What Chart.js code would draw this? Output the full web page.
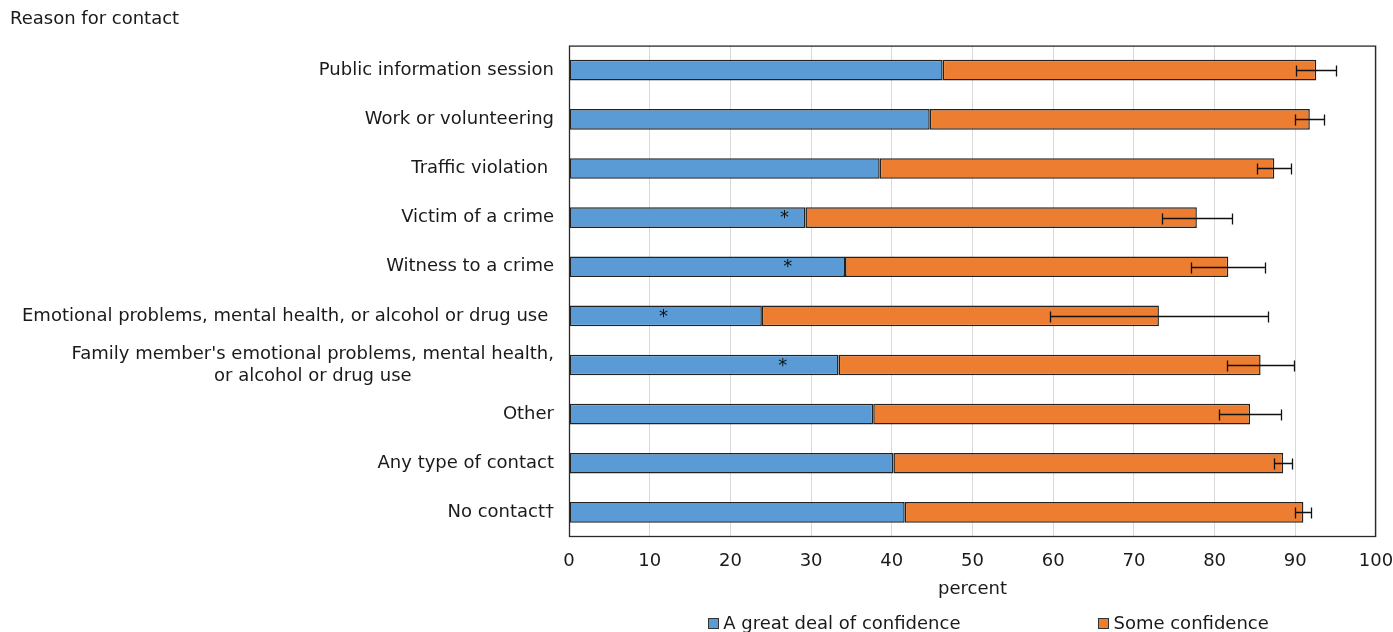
<!DOCTYPE html>
<html>
<head>
<meta charset="utf-8">
<script src="https://cdn.jsdelivr.net/npm/chart.js@4.4.1/dist/chart.umd.min.js"></script>
<style>
  html, body { margin: 0; padding: 0; background: #fff; }
  #wrap { width: 1393px; height: 632px; }
</style>
</head>
<body>
<div id="wrap"><canvas id="chart" width="1393" height="632"></canvas></div>
<script>
// reasons for contact with police, top to bottom
const reasons = [
  'Public information session',
  'Work or volunteering',
  'Traffic violation ',
  'Victim of a crime',
  'Witness to a crime',
  'Emotional problems, mental health, or alcohol or drug use ',
  ["Family member's emotional problems, mental health,", 'or alcohol or drug use'],
  'Other',
  'Any type of contact',
  'No contact\u2020'
];
const greatDeal      = [46.3, 44.7, 38.5, 29.3, 34.2, 23.9, 33.4, 37.7, 40.2, 41.6];
const someConfidence = [46.3, 47.1, 48.9, 48.5, 47.5, 49.2, 52.3, 46.7, 48.3, 49.4];
// margin of error on the combined total
const errorMargin    = [2.5, 1.8, 2.1, 4.3, 4.6, 13.5, 4.2, 3.8, 1.1, 1.0];
// significantly different from the reference group (No contact)
const significant    = [false, false, false, true, true, true, true, false, false, false];

const FONT = 'DejaVu Sans';
const TEXT = '#1a1a1a';
Chart.defaults.font.family = FONT;
Chart.defaults.color = TEXT;

// vertical category labels, with multi-line labels centred on their widest line
const categoryLabels = {
  id: 'categoryLabels',
  afterDraw(chart) {
    const {ctx, chartArea: a, scales: {y}} = chart;
    ctx.save();
    ctx.font = '18px ' + FONT;
    ctx.fillStyle = TEXT;
    ctx.textBaseline = 'middle';
    ctx.textAlign = 'center';
    const right = a.left - 15;
    reasons.forEach((label, i) => {
      const lines = Array.isArray(label) ? label : [label];
      const maxW = Math.max(...lines.map(l => ctx.measureText(l).width));
      const yc = y.getPixelForValue(i);
      lines.forEach((l, k) => {
        ctx.fillText(l, right - maxW / 2, yc + (k - (lines.length - 1) / 2) * 22);
      });
    });
    ctx.restore();
  }
};

// plot frame, error bars and significance stars
const marks = {
  id: 'marks',
  afterDatasetsDraw(chart, args, opts) {
    const {ctx, chartArea: a, scales: {x, y}} = chart;
    ctx.save();
    ctx.strokeStyle = '#111';
    ctx.lineWidth = 1.3;
    errorMargin.forEach((m, i) => {
      const total = greatDeal[i] + someConfidence[i];
      const x0 = Math.round(x.getPixelForValue(total - m)) + 0.5;
      const x1 = Math.round(x.getPixelForValue(total + m)) + 0.5;
      const yc = Math.round(y.getPixelForValue(i)) + 0.5;
      ctx.beginPath();
      ctx.moveTo(x0, yc); ctx.lineTo(x1, yc);
      ctx.moveTo(x0, yc - 5); ctx.lineTo(x0, yc + 6);
      ctx.moveTo(x1, yc - 5); ctx.lineTo(x1, yc + 6);
      ctx.stroke();
    });

    ctx.font = '18px ' + FONT;
    ctx.fillStyle = '#111';
    ctx.textAlign = 'center';
    ctx.textBaseline = 'middle';
    significant.forEach((s, i) => {
      if (!s) return;
      ctx.fillText('*', x.getPixelForValue(opts.starAt[i]), y.getPixelForValue(i) + 1);
    });

    ctx.lineWidth = 1.3;
    ctx.strokeStyle = '#2a2a2a';
    ctx.strokeRect(a.left + 0.5, a.top + 0.5, a.right - a.left - 1, a.bottom - a.top - 1);
    ctx.restore();
  }
};

// legend row under the axis title
const bottomLegend = {
  id: 'bottomLegend',
  afterDraw(chart) {
    const {ctx, chartArea: a} = chart;
    const box = 10, gap = 5, spacing = 138;
    ctx.save();
    ctx.font = '18px ' + FONT;
    ctx.textBaseline = 'middle';
    ctx.textAlign = 'left';
    const items = chart.data.datasets.map(d => ({
      text: d.label, color: d.backgroundColor, w: box + gap + ctx.measureText(d.label).width
    }));
    const total = items.reduce((s, it) => s + it.w, 0) + spacing * (items.length - 1);
    let cx = (a.left + a.right) / 2 + 16 - total / 2;
    const ly = 624;
    items.forEach(it => {
      ctx.fillStyle = it.color;
      ctx.fillRect(Math.round(cx) + 0.5, ly - 5.5, box, box);
      ctx.strokeStyle = '#333';
      ctx.lineWidth = 1;
      ctx.strokeRect(Math.round(cx) + 0.5, ly - 5.5, box, box);
      ctx.fillStyle = TEXT;
      ctx.fillText(it.text, cx + box + gap, ly);
      cx += it.w + spacing;
    });
    ctx.restore();
  }
};

new Chart(document.getElementById('chart').getContext('2d'), {
  type: 'bar',
  data: {
    labels: reasons,
    datasets: [
      {
        label: 'A great deal of confidence',
        data: greatDeal,
        backgroundColor: '#5B9BD5',
        borderColor: '#222',
        borderWidth: 1.5,
        borderSkipped: false,
        barPercentage: 0.42,
        categoryPercentage: 1
      },
      {
        label: 'Some confidence',
        data: someConfidence,
        backgroundColor: '#ED7D31',
        borderColor: '#222',
        borderWidth: 1.5,
        borderSkipped: false,
        barPercentage: 0.42,
        categoryPercentage: 1
      }
    ]
  },
  options: {
    indexAxis: 'y',
    responsive: false,
    animation: false,
    layout: { padding: { top: 0, right: 17, bottom: 30, left: 10 } },
    plugins: {
      legend: { display: false },
      tooltip: { enabled: false },
      title: {
        display: true,
        text: 'Reason for contact',
        align: 'start',
        color: TEXT,
        font: { size: 18, weight: 'normal' },
        padding: { top: 9, bottom: 15 }
      },
      marks: { starAt: [null, null, null, 26.7, 27.1, 11.7, 26.5, null, null, null] }
    },
    scales: {
      x: {
        stacked: true,
        min: 0,
        max: 100,
        ticks: { stepSize: 10, padding: 14, color: TEXT, font: { size: 18 } },
        grid: { color: '#d9d9d9', drawTicks: false },
        border: { display: false },
        title: { display: true, text: 'percent', color: TEXT, font: { size: 18 }, padding: { top: 4, bottom: 2 } },
        afterFit(s) { s.height = 65; s.paddingLeft = 0; s.paddingRight = 0; }
      },
      y: {
        stacked: true,
        ticks: { display: false },
        grid: { display: false },
        border: { display: false },
        afterFit(s) { s.width = 559; }
      }
    }
  },
  plugins: [categoryLabels, marks, bottomLegend]
});
</script>
</body>
</html>
